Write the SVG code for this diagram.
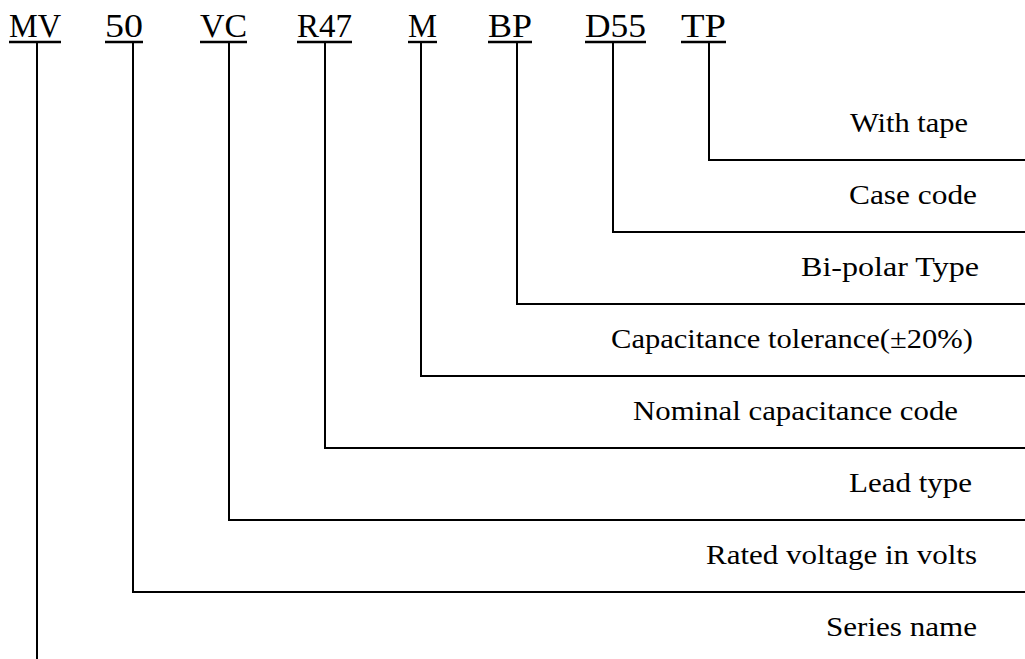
<svg xmlns="http://www.w3.org/2000/svg" width="1025" height="659" viewBox="0 0 1025 659">
<style>
.code{font-family:"Liberation Serif","DejaVu Serif",serif;font-size:33px;fill:#000}
.lbl{font-family:"Liberation Serif","DejaVu Serif",serif;font-size:28px;fill:#000}
.ul{stroke:#000;stroke-width:2.4}
.conn{fill:none;stroke:#000;stroke-width:2}
</style>
<rect width="1025" height="659" fill="#fff"/>
<g id="code-MV"><text class="code" x="9" y="37" textLength="52" lengthAdjust="spacingAndGlyphs">MV</text><line class="ul" x1="9" y1="42" x2="61" y2="42"/></g>
<g id="code-50"><text class="code" x="105" y="37" textLength="38" lengthAdjust="spacingAndGlyphs">50</text><line class="ul" x1="105" y1="42" x2="143" y2="42"/></g>
<g id="code-VC"><text class="code" x="200" y="37" textLength="47" lengthAdjust="spacingAndGlyphs">VC</text><line class="ul" x1="200" y1="42" x2="247" y2="42"/></g>
<g id="code-R47"><text class="code" x="297" y="37" textLength="55" lengthAdjust="spacingAndGlyphs">R47</text><line class="ul" x1="297" y1="42" x2="352" y2="42"/></g>
<g id="code-M"><text class="code" x="408" y="37" textLength="29" lengthAdjust="spacingAndGlyphs">M</text><line class="ul" x1="408" y1="42" x2="437" y2="42"/></g>
<g id="code-BP"><text class="code" x="488" y="37" textLength="44" lengthAdjust="spacingAndGlyphs">BP</text><line class="ul" x1="488" y1="42" x2="532" y2="42"/></g>
<g id="code-D55"><text class="code" x="585" y="37" textLength="61" lengthAdjust="spacingAndGlyphs">D55</text><line class="ul" x1="585" y1="42" x2="646" y2="42"/></g>
<g id="code-TP"><text class="code" x="681" y="37" textLength="45" lengthAdjust="spacingAndGlyphs">TP</text><line class="ul" x1="681" y1="42" x2="726" y2="42"/></g>
<g id="label-with-tape"><text class="lbl" x="850" y="132" textLength="118" lengthAdjust="spacingAndGlyphs">With tape</text></g>
<g id="label-case-code"><text class="lbl" x="849" y="204" textLength="128" lengthAdjust="spacingAndGlyphs">Case code</text></g>
<g id="label-bipolar"><text class="lbl" x="801" y="276" textLength="178" lengthAdjust="spacingAndGlyphs">Bi-polar Type</text></g>
<g id="label-tolerance"><text class="lbl" x="611" y="348" textLength="362" lengthAdjust="spacingAndGlyphs">Capacitance tolerance(±20%)</text></g>
<g id="label-nominal"><text class="lbl" x="633" y="420" textLength="325" lengthAdjust="spacingAndGlyphs">Nominal capacitance code</text></g>
<g id="label-lead"><text class="lbl" x="849" y="492" textLength="123" lengthAdjust="spacingAndGlyphs">Lead type</text></g>
<g id="label-rated"><text class="lbl" x="706" y="564" textLength="271" lengthAdjust="spacingAndGlyphs">Rated voltage in volts</text></g>
<g id="label-series"><text class="lbl" x="826" y="636" textLength="151" lengthAdjust="spacingAndGlyphs">Series name</text></g>
<g id="connectors">
<polyline class="conn" points="709,42 709,160 1025,160"/>
<polyline class="conn" points="613,42 613,232 1025,232"/>
<polyline class="conn" points="517,42 517,304 1025,304"/>
<polyline class="conn" points="421,42 421,376 1025,376"/>
<polyline class="conn" points="325,42 325,448 1025,448"/>
<polyline class="conn" points="229,42 229,520 1025,520"/>
<polyline class="conn" points="133,42 133,592 1025,592"/>
<polyline class="conn" points="37,42 37,659"/>
</g>
</svg>
